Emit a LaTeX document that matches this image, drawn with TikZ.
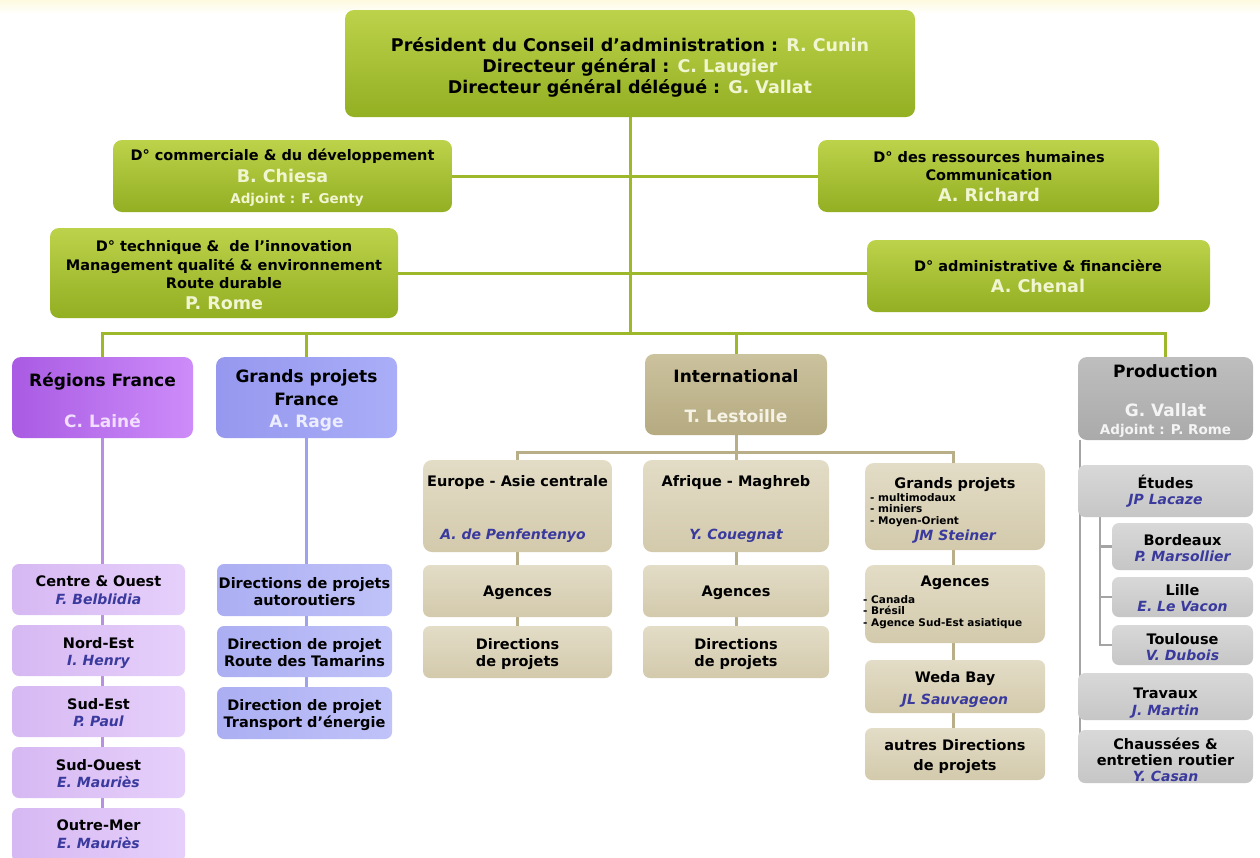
\documentclass[tikz,border=0pt]{standalone}
\usepackage{fontspec}
\setmainfont{DejaVu Sans}
\definecolor{gtop}{HTML}{BCD24A}
\definecolor{gbot}{HTML}{93AF22}
\definecolor{glinec}{HTML}{9DB92B}
\definecolor{gname}{HTML}{F1F5D2}
\definecolor{phL}{HTML}{A95BE3}
\definecolor{phR}{HTML}{CD8CF9}
\definecolor{psL}{HTML}{D6B8F2}
\definecolor{psR}{HTML}{E6D0FB}
\definecolor{plinec}{HTML}{B88FE2}
\definecolor{pname}{HTML}{F2DEFF}
\definecolor{bhL}{HTML}{9598EE}
\definecolor{bhR}{HTML}{AAADF7}
\definecolor{bsL}{HTML}{ABAEF2}
\definecolor{bsR}{HTML}{C0C3F8}
\definecolor{blinec}{HTML}{9EA1EC}
\definecolor{bname}{HTML}{ECEDFF}
\definecolor{thT}{HTML}{CBC29E}
\definecolor{thB}{HTML}{B5AA80}
\definecolor{tsT}{HTML}{E3DCC6}
\definecolor{tsB}{HTML}{D3CAAC}
\definecolor{tlinec}{HTML}{B8AE88}
\definecolor{tname}{HTML}{F6F3E6}
\definecolor{ghT}{HTML}{BEBEBE}
\definecolor{ghB}{HTML}{AAAAAA}
\definecolor{gsT}{HTML}{D8D8D8}
\definecolor{gsB}{HTML}{C6C6C6}
\definecolor{grlinec}{HTML}{A4A4A4}
\definecolor{grname}{HTML}{F4F4F4}
\definecolor{iname}{HTML}{3A3A9E}
\definecolor{cream}{HTML}{FDFAE0}
\pgfdeclarelayer{back}
\pgfdeclarelayer{bg}
\pgfsetlayers{back,bg,main}
\begin{document}
\begin{tikzpicture}[x=1pt,y=-1pt,
  box/.style={rounded corners=9pt, draw=none, inner sep=0pt, outer sep=0pt},
  gbx/.style={box, top color=gtop, bottom color=gbot},
  phd/.style={box, left color=phL, right color=phR},
  psb/.style={box, rounded corners=7pt, left color=psL, right color=psR},
  bhd/.style={box, left color=bhL, right color=bhR},
  bsb/.style={box, rounded corners=7pt, left color=bsL, right color=bsR},
  thd/.style={box, top color=thT, bottom color=thB},
  tsb/.style={box, rounded corners=7pt, top color=tsT, bottom color=tsB},
  ghd/.style={box, top color=ghT, bottom color=ghB},
  gsb/.style={box, rounded corners=7pt, top color=gsT, bottom color=gsB},
  tt/.style={font=\bfseries\fontsize{14.5}{17}\selectfont, inner sep=0pt, anchor=base, yshift=-5pt},
  tp/.style={font=\bfseries\fontsize{17.5}{21}\selectfont, inner sep=0pt, anchor=base, yshift=-6pt},
  hd/.style={font=\bfseries\fontsize{17}{20}\selectfont, inner sep=0pt, anchor=base, yshift=-6pt},
  nmg/.style={font=\bfseries\fontsize{17.5}{21}\selectfont, text=gname, inner sep=0pt, anchor=base, yshift=-6pt},
  adj/.style={font=\bfseries\fontsize{13.5}{16}\selectfont, inner sep=0pt, anchor=base, yshift=-5pt},
  nm/.style={font=\bfseries\itshape\fontsize{14}{17}\selectfont, text=iname, inner sep=0pt, anchor=base, yshift=-5pt},
  sm/.style={font=\bfseries\fontsize{10.5}{12}\selectfont, inner sep=0pt, anchor=base west, yshift=-4pt},
  gl/.style={draw=glinec, line width=3pt},
  pl/.style={draw=plinec, line width=3pt},
  bl/.style={draw=blinec, line width=3pt},
  tl/.style={draw=tlinec, line width=3pt},
  rl/.style={draw=grlinec, line width=2.5pt}]
\useasboundingbox (0,0) rectangle (1260,857);
\begin{pgfonlayer}{back}
\fill[white] (0,0) rectangle (1260,857);
\shade[top color=cream, bottom color=white] (0,0) rectangle (1260,14);
\end{pgfonlayer}

% ---------- top level ----------
\node[gbx, minimum width=570pt, minimum height=107pt] (top) at (630,63.5) {};
\node[tp] (t1) at (630,45) {Président du Conseil d’administration : \textcolor{gname}{R. Cunin}};
\node[tp] (t2) at (630,66) {Directeur général : \textcolor{gname}{C. Laugier}};
\node[tp] (t3) at (630,87) {Directeur général délégué : \textcolor{gname}{G. Vallat}};

\node[gbx, minimum width=339pt, minimum height=72pt] (comm) at (282.5,176) {};
\node[tt] (c1) at (282.5,155) {D° commerciale \& du développement};
\node[nmg] (c2) at (282.5,176) {B. Chiesa};
\node[adj, text=gname] (c3) at (297,198) {Adjoint : F. Genty};

\node[gbx, minimum width=341pt, minimum height=72pt] (rh) at (988.5,176) {};
\node[tt] (r1) at (989,157) {D° des ressources humaines};
\node[tt] (r2) at (989,175) {Communication};
\node[nmg] (r3) at (989,195) {A. Richard};

\node[gbx, minimum width=348pt, minimum height=90pt] (tech) at (224,273) {};
\node[tt] (h1) at (224,246.5) {D° technique \& ~de l’innovation};
\node[tt] (h2) at (224,265) {Management qualité \& environnement};
\node[tt] (h3) at (224,283) {Route durable};
\node[nmg] (h4) at (224,303) {P. Rome};

\node[gbx, minimum width=343pt, minimum height=72pt] (adm) at (1038.5,276) {};
\node[tt] (a1) at (1038,266.5) {D° administrative \& financière};
\node[nmg] (a2) at (1038,286.5) {A. Chenal};

% ---------- second level headers ----------
\node[phd, minimum width=181pt, minimum height=81pt] (reg) at (102.5,397.5) {};
\node[hd] (rg1) at (102.5,380) {Régions France};
\node[hd, text=pname] (rg2) at (102.5,421.5) {C. Lainé};

\node[bhd, minimum width=181pt, minimum height=81pt] (gpf) at (306.5,397.5) {};
\node[hd] (gf1) at (306.5,376.5) {Grands projets};
\node[hd] (gf2) at (306.5,399.5) {France};
\node[hd, text=bname] (gf3) at (306.5,421.5) {A. Rage};

\node[thd, minimum width=182pt, minimum height=81pt] (intl) at (736,394.5) {};
\node[hd] (in1) at (736,376) {International};
\node[hd, text=tname] (in2) at (736,416) {T. Lestoille};

\node[ghd, minimum width=175pt, minimum height=83pt] (prod) at (1165.5,398.5) {};
\node[hd] (pr1) at (1165.5,371.5) {Production};
\node[hd, text=grname] (pr2) at (1165.5,410) {G. Vallat};
\node[adj, text=grname] (pr3) at (1165.5,429.5) {Adjoint : P. Rome};

% ---------- Régions France ----------
\node[psb, minimum width=173pt, minimum height=51pt] (ro1) at (98.5,589.5) {};
\node[tt] (ro1a) at (98.5,581.5) {Centre \& Ouest};
\node[nm] (ro1b) at (98.5,599.5) {F. Belblidia};
\node[psb, minimum width=173pt, minimum height=51pt] (ro2) at (98.5,650.5) {};
\node[tt] (ro2a) at (98.5,643) {Nord-Est};
\node[nm] (ro2b) at (98.5,660) {I. Henry};
\node[psb, minimum width=173pt, minimum height=51pt] (ro3) at (98.5,711.5) {};
\node[tt] (ro3a) at (98.5,704) {Sud-Est};
\node[nm] (ro3b) at (98.5,721.5) {P. Paul};
\node[psb, minimum width=173pt, minimum height=51pt] (ro4) at (98.5,772.5) {};
\node[tt] (ro4a) at (98.5,765) {Sud-Ouest};
\node[nm] (ro4b) at (98.5,782.5) {E. Mauriès};
\node[psb, minimum width=173pt, minimum height=54pt] (ro5) at (98.5,835) {};
\node[tt] (ro5a) at (98.5,825.5) {Outre-Mer};
\node[nm] (ro5b) at (98.5,843) {E. Mauriès};

% ---------- Grands projets France ----------
\node[bsb, minimum width=175pt, minimum height=52pt] (gb1) at (304.5,590) {};
\node[tt] (gb1a) at (304.5,583) {Directions de projets};
\node[tt] (gb1b) at (304.5,600.5) {autoroutiers};
\node[bsb, minimum width=175pt, minimum height=51pt] (gb2) at (304.5,651.5) {};
\node[tt] (gb2a) at (304.5,644) {Direction de projet};
\node[tt] (gb2b) at (304.5,661.5) {Route des Tamarins};
\node[bsb, minimum width=175pt, minimum height=52pt] (gb3) at (304.5,713) {};
\node[tt] (gb3a) at (304.5,705) {Direction de projet};
\node[tt] (gb3b) at (304.5,722) {Transport d’énergie};

% ---------- International ----------
\node[tsb, rounded corners=9pt, minimum width=189pt, minimum height=92pt] (eu) at (517.5,506) {};
\node[tt] (eu1) at (517.5,481.5) {Europe - Asie centrale};
\node[nm] (eu2) at (513,534) {A. de Penfentenyo};
\node[tsb, minimum width=189pt, minimum height=52pt] (eu2b) at (517.5,591) {};
\node[tt] (eu2t) at (517.5,591.5) {Agences};
\node[tsb, minimum width=189pt, minimum height=52pt] (eu3) at (517.5,652) {};
\node[tt] (eu3a) at (517.5,644) {Directions};
\node[tt] (eu3b) at (517.5,661.5) {de projets};

\node[tsb, rounded corners=9pt, minimum width=186pt, minimum height=92pt] (af) at (736,506) {};
\node[tt] (af1) at (736,481.5) {Afrique - Maghreb};
\node[nm] (af2) at (736,534) {Y. Couegnat};
\node[tsb, minimum width=186pt, minimum height=52pt] (af2b) at (736,591) {};
\node[tt] (af2t) at (736,591.5) {Agences};
\node[tsb, minimum width=186pt, minimum height=52pt] (af3) at (736,652) {};
\node[tt] (af3a) at (736,644) {Directions};
\node[tt] (af3b) at (736,661.5) {de projets};

\node[tsb, rounded corners=9pt, minimum width=180pt, minimum height=87pt] (gpi) at (955,506.5) {};
\node[tt] (gpi1) at (955,483.5) {Grands projets};
\node[sm] (gpi2) at (870,497.5) {- multimodaux};
\node[sm] (gpi3) at (870,508.5) {- miniers};
\node[sm] (gpi4) at (870,520) {- Moyen-Orient};
\node[nm] (gpi5) at (955,535) {JM Steiner};
\node[tsb, rounded corners=9pt, minimum width=180pt, minimum height=78pt] (gag) at (955,604) {};
\node[tt] (gag1) at (955,581) {Agences};
\node[sm] (gag2) at (863,599.5) {- Canada};
\node[sm] (gag3) at (863,610.5) {- Brésil};
\node[sm] (gag4) at (863,622) {- Agence Sud-Est asiatique};
\node[tsb, minimum width=180pt, minimum height=53pt] (wb) at (955,686.5) {};
\node[tt] (wb1) at (955,677) {Weda Bay};
\node[nm] (wb2) at (955,699) {JL Sauvageon};
\node[tsb, minimum width=180pt, minimum height=52pt] (aut) at (955,754) {};
\node[tt] (aut1) at (955,745) {autres Directions};
\node[tt] (aut2) at (955,765) {de projets};

% ---------- Production ----------
\node[gsb, minimum width=175pt, minimum height=52pt] (etu) at (1165.5,491) {};
\node[tt] (etu1) at (1165.5,483.5) {Études};
\node[nm] (etu2) at (1165.5,499.5) {JP Lacaze};
\node[gsb, minimum width=141pt, minimum height=47pt] (bdx) at (1182.5,546.5) {};
\node[tt] (bdx1) at (1182.5,540) {Bordeaux};
\node[nm] (bdx2) at (1182.5,556) {P. Marsollier};
\node[gsb, minimum width=141pt, minimum height=40pt] (lil) at (1182.5,597) {};
\node[tt] (lil1) at (1182.5,590) {Lille};
\node[nm] (lil2) at (1182.5,606.5) {E. Le Vacon};
\node[gsb, minimum width=141pt, minimum height=40pt] (tls) at (1182.5,645) {};
\node[tt] (tls1) at (1182.5,639) {Toulouse};
\node[nm] (tls2) at (1182.5,655) {V. Dubois};
\node[gsb, minimum width=175pt, minimum height=47pt] (trv) at (1165.5,696.5) {};
\node[tt] (trv1) at (1165.5,693) {Travaux};
\node[nm] (trv2) at (1165.5,710) {J. Martin};
\node[gsb, minimum width=175pt, minimum height=53pt] (chs) at (1165.5,756.5) {};
\node[tt] (chs1) at (1165.5,744) {Chaussées \&};
\node[tt] (chs2) at (1165.5,760) {entretien routier};
\node[nm] (chs3) at (1165.5,776) {Y. Casan};

% ---------- connectors ----------
\coordinate (busL) at (102.5,333);
\coordinate (busR) at (1165.5,333);
\coordinate (ibus) at (736,452);
\begin{pgfonlayer}{bg}
\draw[gl] (top.south) -- (top.south |- busL);
\draw[gl] (comm.east) -- (rh.west);
\draw[gl] (tech.east) -- (tech.east -| adm.west);
\draw[gl] (reg.north) -- (busL) -- (busR) -- (prod.north);
\draw[gl] (gpf.north) -- (gpf.north |- busL);
\draw[gl] (intl.north) -- (intl.north |- busL);
\draw[pl] (reg.south) -- (reg.south |- ro5.center);
\draw[bl] (gpf.south) -- (gpf.south |- gb3.center);
\draw[tl] (intl.south) -- (ibus);
\draw[tl] (eu.north) -- (eu.north |- ibus) -- ([xshift=-2pt]gpi.north |- ibus) -- ([xshift=-2pt]gpi.north);
\draw[tl] (af.north) -- (af.north |- ibus);
\draw[tl] (eu.south) -- (eu3.north);
\draw[tl] (af.south) -- (af3.north);
\draw[tl] ([xshift=-2pt]gpi.south) -- ([xshift=-2pt]aut.north);
\draw[rl] ([xshift=2pt]prod.south west) -- ([xshift=2pt,yshift=3pt]chs.south west);
\draw[rl] ([xshift=22pt]etu.south west) |- (tls.west);
\draw[rl] ([xshift=22pt]etu.south west |- bdx.west) -- (bdx.west);
\draw[rl] ([xshift=22pt]etu.south west |- lil.west) -- (lil.west);
\end{pgfonlayer}
\end{tikzpicture}
\end{document}
